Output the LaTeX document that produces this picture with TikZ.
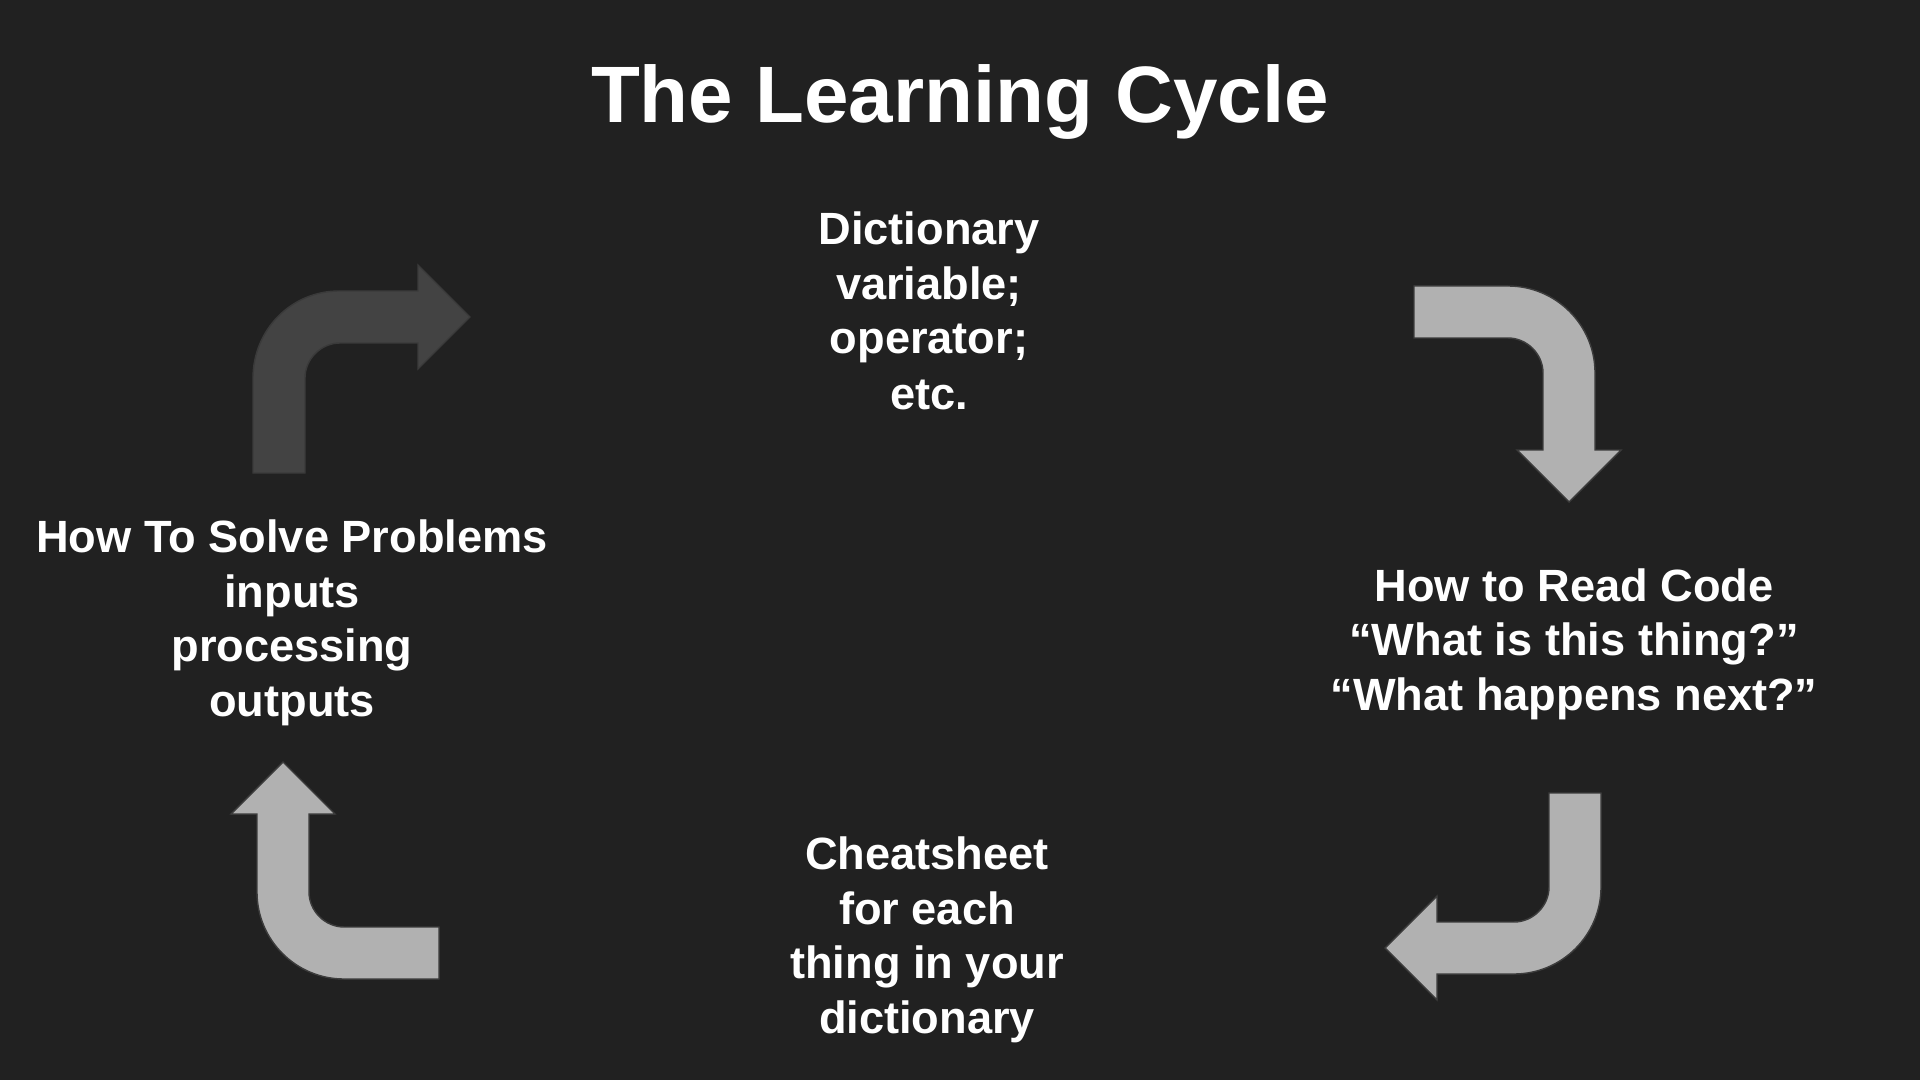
\documentclass[tikz,border=0pt]{standalone}
\usepackage{fontspec}
\setmainfont{Liberation Sans}
\begin{document}
\begin{tikzpicture}[x=0.5pt,y=-0.5pt,
  label/.style={anchor=base,inner sep=0pt,text=white,font=\fontsize{22.6}{27}\selectfont\bfseries},
  heading/.style={anchor=base,inner sep=0pt,text=white,font=\fontsize{40}{48}\selectfont\bfseries},
  lightarrow/.style={fill=arrowlight,draw=arrowedge,line width=0.7pt,line join=miter},
  darkarrow/.style={fill=arrowdark,draw=arrowdarkedge,line width=0.7pt,line join=miter}]
\definecolor{bg}{HTML}{212121}
\definecolor{arrowlight}{HTML}{B1B1B1}
\definecolor{arrowedge}{HTML}{3C3C3C}
\definecolor{arrowdark}{HTML}{434343}
\definecolor{arrowdarkedge}{HTML}{3A3A3A}

% background
\fill[bg] (0,0) rectangle (1920,1080);
\useasboundingbox (0,0) rectangle (1920,1080);

% title
\node[heading] (title) at (960,123) {The Learning Cycle};

% top block
\node[label] (dict1) at (929,245) {Dictionary};
\node[label] (dict2) at (929,300) {variable;};
\node[label] (dict3) at (929,354) {operator;};
\node[label] (dict4) at (929,409) {etc.};

% left block
\node[label] (solve1) at (292,552) {How To Solve Problems};
\node[label] (solve2) at (292,607) {inputs};
\node[label] (solve3) at (292,661) {processing};
\node[label] (solve4) at (292,716) {outputs};

% right block
\node[label] (read1) at (1574,601) {How to Read Code};
\node[label] (read2) at (1574,655) {“What is this thing?”};
\node[label] (read3) at (1574,710) {“What happens next?”};

% bottom block
\node[label] (cheat1) at (927,869) {Cheatsheet};
\node[label] (cheat2) at (927,924) {for each};
\node[label] (cheat3) at (927,978) {thing in your};
\node[label] (cheat4) at (927,1033) {dictionary};

% bent arrow, top left (up then right)
\draw[darkarrow] (253,473) -- (253,378)
  .. controls (253,330) and (291,291) .. (339,291)
  -- (418,291) -- (418,265) -- (470,317) -- (418,369) -- (418,343) -- (340,343)
  .. controls (321,343) and (305,359) .. (305,378)
  -- (305,473) -- cycle;

% bent arrow, top right (right then down)
\draw[lightarrow] (1414,286) -- (1508,286)
  .. controls (1556,286) and (1595,325) .. (1595,373)
  -- (1595,450) -- (1621,450) -- (1569,502) -- (1517,450) -- (1543,450) -- (1543,373)
  .. controls (1543,354) and (1527,338) .. (1508,338)
  -- (1414,338) -- cycle;

% bent arrow, bottom right (down then left)
\draw[lightarrow] (1549,793) -- (1601,793) -- (1601,887)
  .. controls (1601,935) and (1562,974) .. (1514,974)
  -- (1437,974) -- (1437,1000) -- (1385,948) -- (1437,896) -- (1437,922) -- (1514,922)
  .. controls (1533,922) and (1549,906) .. (1549,887)
  -- cycle;

% bent arrow, bottom left (left then up)
\draw[lightarrow] (283,762) -- (335,814) -- (309,814) -- (309,892)
  .. controls (309,911) and (325,927) .. (344,927)
  -- (439,927) -- (439,979) -- (344,979)
  .. controls (296,979) and (257,940) .. (257,892)
  -- (257,814) -- (231,814) -- cycle;
\end{tikzpicture}
\end{document}
